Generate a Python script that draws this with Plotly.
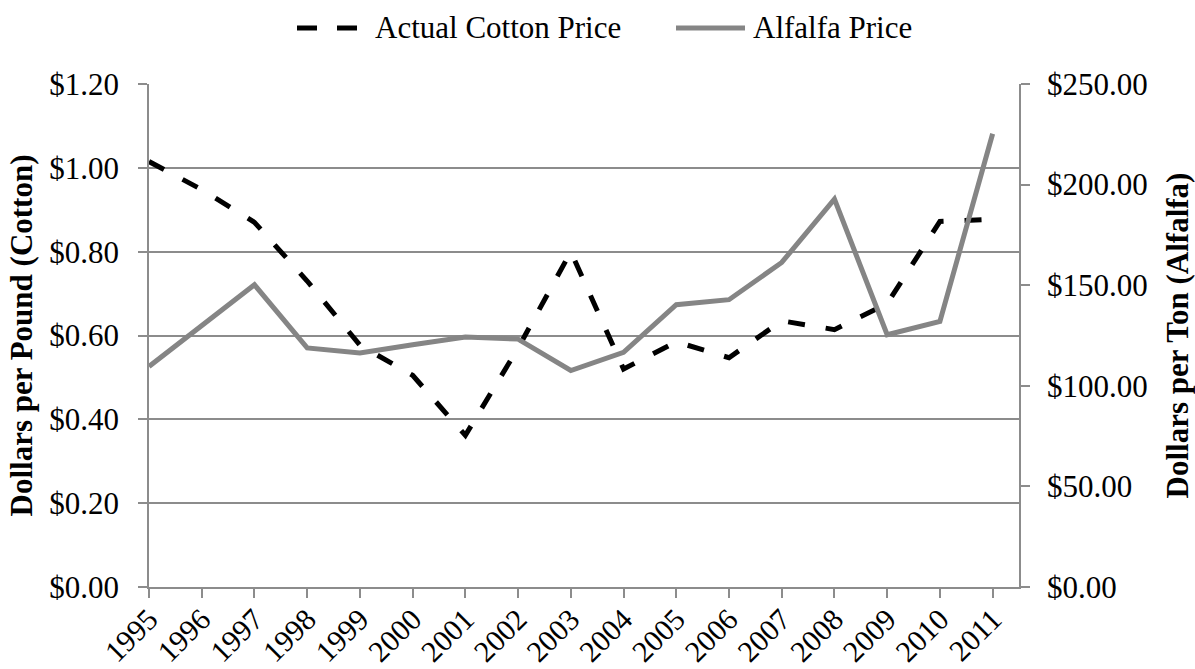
import plotly.graph_objects as go

# Annual prices, 1995-2011
years = list(range(1995, 2012))
year_labels = [str(y) for y in years]

# Actual cotton price, dollars per pound (left axis)
cotton_price = [1.015, 0.948, 0.87, 0.73, 0.577, 0.505, 0.362, 0.57, 0.80,
                0.52, 0.585, 0.547, 0.635, 0.614, 0.676, 0.872, 0.877]

# Alfalfa price, dollars per ton (right axis)
alfalfa_price = [109.6, 129.8, 150.2, 118.8, 116.3, 120.4, 124.2, 123.2, 107.6,
                 116.6, 140.3, 142.8, 161.3, 192.8, 125.4, 132.0, 225.3]

series_names = ["Actual Cotton Price", "Alfalfa Price"]

SERIF = "Liberation Serif, Times New Roman, serif"
AXIS_GRAY = "#8c8c8c"
COTTON_STYLE = dict(color="black", width=5, dash="17px,21px")
ALFALFA_STYLE = dict(color="#858585", width=5)

W, H = 1195, 669
M = dict(l=149, r=176, t=84, b=82)
plot_w = W - M["l"] - M["r"]
plot_h = H - M["t"] - M["b"]


def px_x(px):
    return (px - M["l"]) / plot_w


def px_y(py):
    return (H - M["b"] - py) / plot_h


fig = go.Figure()

fig.add_trace(go.Scatter(
    x=years, y=cotton_price, name=series_names[0],
    mode="lines", line=COTTON_STYLE, yaxis="y", showlegend=False,
))

fig.add_trace(go.Scatter(
    x=years, y=alfalfa_price, name=series_names[1],
    mode="lines", line=ALFALFA_STYLE, yaxis="y2", showlegend=False,
))

# Legend row across the top: sample line + label for each series
legend_y = px_y(28)
legend_items = [
    (297, 357, 373, dict(color="black", width=5, dash="20px,20px"), series_names[0]),
    (676, 745, 751, dict(color="#858585", width=5), series_names[1]),
]
shapes = []
annotations = []
for x0, x1, tx, style, label in legend_items:
    shapes.append(dict(type="line", xref="paper", yref="paper",
                       x0=px_x(x0), x1=px_x(x1), y0=legend_y, y1=legend_y,
                       line=style))
    annotations.append(dict(xref="paper", yref="paper", x=px_x(tx), y=legend_y,
                            xanchor="left", yanchor="middle", showarrow=False,
                            text=label, font=dict(family=SERIF, size=31)))

fig.update_layout(
    width=W, height=H,
    margin=dict(**M, autoexpand=False),
    paper_bgcolor="white", plot_bgcolor="white",
    font=dict(family=SERIF, size=31, color="black"),
    showlegend=False,
    shapes=shapes,
    annotations=annotations,
    xaxis=dict(
        range=[1995, 2011.5], tickmode="array", tickvals=years, ticktext=year_labels,
        tickangle=-45, ticks="outside", ticklen=9, tickwidth=1.5, tickcolor=AXIS_GRAY,
        showline=True, linecolor=AXIS_GRAY, linewidth=1.5,
        showgrid=False, zeroline=False, automargin=False,
        ticklabelstandoff=-8,
        tickfont=dict(family=SERIF, size=30),
    ),
    yaxis=dict(
        range=[0, 1.2], tickmode="linear", tick0=0, dtick=0.2, tickformat="$.2f",
        ticks="outside", ticklen=9, tickwidth=1.5, tickcolor=AXIS_GRAY,
        showline=True, linecolor=AXIS_GRAY, linewidth=1.5,
        showgrid=True, gridcolor=AXIS_GRAY, gridwidth=1.5, zeroline=False,
        ticklabelstandoff=13, automargin=False,
        title=dict(text="<b>Dollars per Pound (Cotton)</b>", standoff=7,
                   font=dict(family=SERIF, size=31)),
    ),
    yaxis2=dict(
        range=[0, 250], tickmode="linear", tick0=0, dtick=50, tickformat="$.2f",
        overlaying="y", side="right", anchor="x",
        ticks="outside", ticklen=9, tickwidth=1.5, tickcolor=AXIS_GRAY,
        showline=True, linecolor=AXIS_GRAY, linewidth=1.5,
        showgrid=False, zeroline=False, automargin=False,
        ticklabelstandoff=11,
        title=dict(text="<b>Dollars per Ton (Alfalfa)</b>", standoff=23,
                   font=dict(family=SERIF, size=31)),
    ),
)

fig.write_html("out.html")
